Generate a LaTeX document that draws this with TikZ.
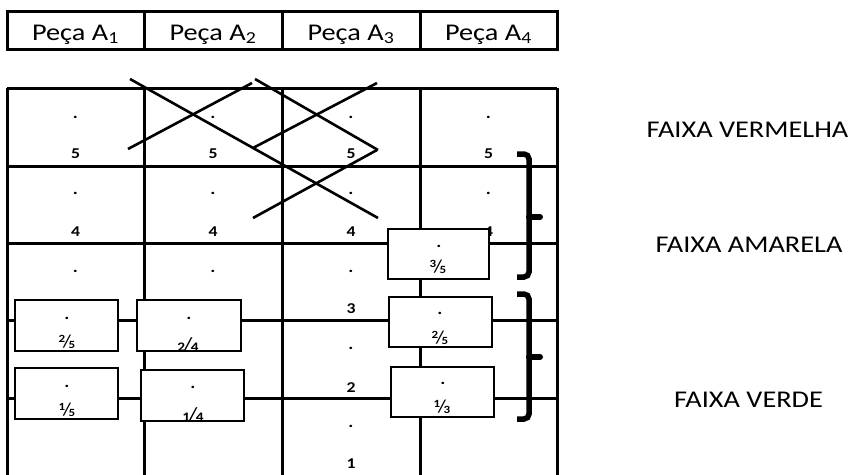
\documentclass[tikz,border=0pt]{standalone}
\usepackage{fontspec}
\setmainfont{Carlito}
\newcommand{\sx}[1]{\scalebox{1.18}[1]{#1}}
\newcommand{\fr}[2]{\raisebox{4.5pt}{\fontsize{11}{11}\selectfont\bfseries #1}\kern-2pt{\fontsize{18}{18}\selectfont /}\kern-2pt\raisebox{-1.5pt}{\fontsize{11}{11}\selectfont\bfseries #2}}
\newcommand{\frb}[2]{{\fontsize{13}{13}\selectfont\bfseries #1}\kern-1.5pt{\fontsize{20}{20}\selectfont /}\kern-1.5pt{\fontsize{13}{13}\selectfont\bfseries #2}}
\begin{document}
\begin{tikzpicture}[x=1pt,y=-1pt,
  gridline/.style={line width=3pt},
  xline/.style={line width=2.6pt},
  pbox/.style={draw, line width=2.6pt, fill=white, inner sep=0pt},
  hdr/.style={anchor=base, inner sep=0pt, font=\fontsize{24}{24}\selectfont},
  lbl/.style={anchor=base, inner sep=0pt, font=\fontsize{24}{24}\selectfont},
  num/.style={anchor=base, inner sep=0pt, font=\fontsize{15}{15}\selectfont\bfseries},
  pt/.style={inner sep=0pt, font=\fontsize{16}{16}\selectfont\bfseries},
  frac/.style={inner sep=0pt},
  brk/.style={line width=5.5pt, rounded corners=5pt},
  nub/.style={line width=6pt, line cap=round}]
\useasboundingbox (0,0) rectangle (854,474);

% header
\draw[gridline] (7,11) rectangle (557,49);
\foreach \x in {144,282,420} \draw[gridline] (\x,11) -- (\x,49);
\node[hdr] (h1) at (75.5,40) {\sx{Peça A\textsubscript{1}}};
\node[hdr] (h2) at (213,40) {\sx{Peça A\textsubscript{2}}};
\node[hdr] (h3) at (351,40) {\sx{Peça A\textsubscript{3}}};
\node[hdr] (h4) at (488.5,40) {\sx{Peça A\textsubscript{4}}};

% grid
\draw[gridline] (7,88) -- (557,88);
\foreach \x in {7,144,282,420,557} \draw[gridline] (\x,88) -- (\x,480);
\foreach \y in {166,243,320,398} \draw[gridline] (7,\y) -- (557,\y);

% crossing lines
\draw[xline] (130,79) -- (378,218);
\draw[xline] (128,149) -- (252,83);
\draw[xline] (255,79) -- (378,150);
\draw[xline] (253,148) -- (377,83);
\draw[xline] (253,218) -- (377,150);

% cell labels
\foreach \x/\n in {75.5/a,213/b,351/c,488.5/d}{
  \node[pt] (p5\n) at (\x,117) {\sx{.}};
  \node[num] (n5\n) at (\x,158) {\sx{5}};
  \node[pt] (p4\n) at (\x,193) {\sx{.}};
  \node[num] (n4\n) at (\x,236) {\sx{4}};
}
\foreach \x/\n in {75.5/a,213/b,351/c}{
  \node[pt] (p3\n) at (\x,271) {\sx{.}};
}
\node[num] (n3) at (351,313) {\sx{3}};
\node[pt] (p2) at (351,348) {\sx{.}};
\node[num] (n2) at (351,392) {\sx{2}};
\node[pt] (p1) at (351,426) {\sx{.}};
\node[num] (n1) at (351,468) {\sx{1}};

% boxes
\node[pbox, minimum width=103pt, minimum height=51pt] (b25a) at (66.5,325.5) {};
\node[pbox, minimum width=104pt, minimum height=51pt] (b24) at (189,325.5) {};
\node[pbox, minimum width=103pt, minimum height=51pt] (b15) at (66.5,393.5) {};
\node[pbox, minimum width=103pt, minimum height=51pt] (b14) at (192.5,395.5) {};
\node[pbox, minimum width=101pt, minimum height=50pt] (b35) at (438.5,254) {};
\node[pbox, minimum width=103pt, minimum height=50pt] (b25b) at (440.5,322) {};
\node[pbox, minimum width=103pt, minimum height=50pt] (b13) at (442.5,392) {};

\node[pt] (d25a) at (67,318) {\sx{.}};
\node[frac] (f25a) at (67,342) {\sx{\fr{2}{5}}};
\node[pt] (d24) at (189,318) {\sx{.}};
\node[frac] (f24) at (188,345) {\sx{\frb{2}{4}}};
\node[pt] (d15) at (67,386) {\sx{.}};
\node[frac] (f15) at (67,410) {\sx{\fr{1}{5}}};
\node[pt] (d14) at (193,387) {\sx{.}};
\node[frac] (f14) at (193,415) {\sx{\frb{1}{4}}};
\node[pt] (d35) at (439,246) {\sx{.}};
\node[frac] (f35) at (438,267) {\sx{\fr{3}{5}}};
\node[pt] (d25b) at (440,313) {\sx{.}};
\node[frac] (f25b) at (440,338) {\sx{\fr{2}{5}}};
\node[pt] (d13) at (443,383) {\sx{.}};
\node[frac] (f13) at (442,407) {\sx{\fr{1}{3}}};

% brackets
\draw[brk] (517,154) -- (529,154) -- (529,277) -- (517,277);
\draw[nub] (529,217) -- (540,217);
\draw[brk] (517,294) -- (529,294) -- (529,419) -- (517,419);
\draw[nub] (529,357) -- (540,357);

% labels
\node[lbl] (fv) at (747.5,137) {\sx{FAIXA VERMELHA}};
\node[lbl] (fa) at (749,252) {\sx{FAIXA AMARELA}};
\node[lbl] (fg) at (748.5,407) {\sx{FAIXA VERDE}};
\end{tikzpicture}
\end{document}
